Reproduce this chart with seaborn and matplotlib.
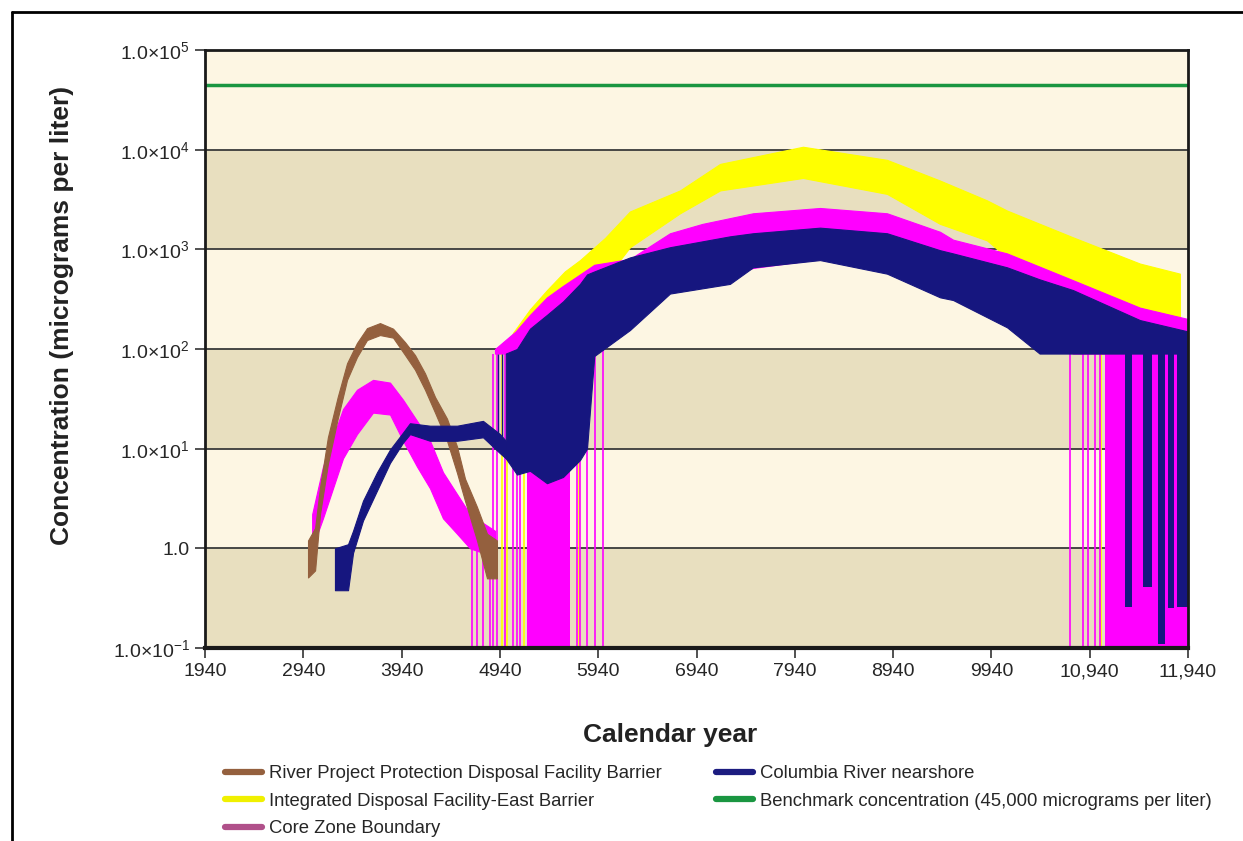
import numpy as np
import pandas as pd
import matplotlib
matplotlib.use('Agg')
import matplotlib.pyplot as plt
from matplotlib.lines import Line2D
import seaborn as sns

# ---- data (envelopes of the noisy model traces) ----
brown_years = [2988, 3060, 3110, 3190, 3290, 3385, 3486, 3588, 3720, 3853, 3975, 4076, 4178, 4280, 4402, 4504, 4585, 4707, 4809, 4910]
brown_upper = [1.2, 1.6, 4.1, 13, 33, 72, 115, 162, 182, 160, 117, 87, 57, 33, 20, 10.5, 5.0, 2.6, 1.4, 1.2]
brown_lower = [0.51, 0.6, 2.2, 7, 20, 49, 83, 123, 138, 130, 87, 62, 39, 23, 12, 5.7, 3.0, 1.2, 0.5, 0.5]

core1_years = [3030, 3140, 3242, 3344, 3486, 3649, 3822, 3954, 4097, 4229, 4361, 4504, 4636, 4768, 4890]
core1_upper = [2.2, 6.6, 13, 25, 39, 49, 46, 31, 19, 12, 5.8, 3.5, 2.2, 1.8, 1.5]
core1_lower = [1.0, 2.0, 4.0, 8.0, 14, 23, 22, 12, 6.6, 4.0, 2.0, 1.4, 1.0, 0.9, 0.9]

core2_years = [4890, 5100, 5246, 5419, 5582, 5755, 5900, 6263, 6670, 7000, 7515, 8196, 8878, 9417, 9550, 10099, 10770, 11451, 11940]
core2_upper = [100, 150, 220, 330, 430, 560, 700, 800, 1450, 1800, 2300, 2600, 2300, 1500, 1250, 910, 490, 260, 200]
core2_lower = [90, 90, 90, 90, 90, 90, 90, 200, 380, 450, 650, 800, 600, 350, 320, 170, 90, 90, 90]

river1_years = [3262, 3395, 3446, 3547, 3690, 3822, 3954, 4025, 4229, 4504, 4768, 4941, 5000]
river1_upper = [1.0, 1.1, 1.5, 3.0, 5.8, 9.8, 14.5, 18, 17, 17, 19, 14, 12]
river1_lower = [0.38, 0.38, 0.9, 1.9, 3.8, 7.2, 11.5, 14, 12, 12, 13, 9.0, 8.0]

river2_years = [5000, 5114, 5246, 5419, 5582, 5755, 5826, 5900, 6263, 6670, 7280, 7515, 8196, 8878, 9417, 9550, 10099, 10430, 10770, 11451, 11940]
river2_upper = [90, 100, 160, 220, 300, 450, 560, 600, 830, 1050, 1350, 1450, 1650, 1450, 980, 910, 660, 500, 390, 195, 150]
river2_lower = [8.0, 5.5, 6.0, 4.5, 5.2, 7.7, 10, 85, 155, 360, 450, 660, 780, 570, 330, 310, 165, 90, 90, 90, 90]

idf_years = [5000, 5073, 5246, 5419, 5600, 5755, 6009, 6263, 6772, 7180, 8023, 8878, 9417, 9895, 10099, 10770, 11451, 11858]
idf_upper = [95, 145, 250, 390, 600, 780, 1300, 2400, 3900, 7200, 10700, 7900, 4900, 3100, 2450, 1320, 720, 570]
idf_lower = [90, 90, 90, 100, 150, 330, 500, 1050, 2300, 3900, 5200, 3600, 1800, 1230, 830, 330, 230, 100]

# drop-outs (values falling below the axis floor)
core_spike_years = [4656, 4707, 4768, 4839, 4870, 4911, 4992, 5073, 5114, 5144, 5724, 5755, 5826, 5907, 5989, 10740, 10872, 10923, 10990, 11045]
core_spike_tops = [1.5, 1.5, 1.3, 1.0, 90, 90, 90, 100, 110, 120, 400, 400, 450, 500, 550, 100, 100, 100, 100, 100]
core_block_start = [5216, 11096]
core_block_end = [5653, 11940]
idf_spike_years = [4962, 5010, 5190, 5600, 5745, 11060, 11110]
idf_spike_tops = [100, 100, 120, 150, 330, 330, 300]
river_spike_years = [4921, 4962]
river_spike_lows = [10, 10]
river_block_start = [11300, 11485, 11635, 11740, 11830]
river_block_end = [11370, 11575, 11705, 11800, 11935]
river_block_low = [0.26, 0.41, 0.11, 0.25, 0.26]

benchmark = 45000
year_ticks = [1940, 2940, 3940, 4940, 5940, 6940, 7940, 8940, 9940, 10940, 11940]
year_labels = ['1940', '2940', '3940', '4940', '5940', '6940', '7940', '8940', '9940', '10,940', '11,940']
conc_ticks = [0.1, 1, 10, 100, 1000, 10000, 100000]
conc_labels = ['1.0×10$^{-1}$', '1.0', '1.0×10$^{1}$', '1.0×10$^{2}$', '1.0×10$^{3}$', '1.0×10$^{4}$', '1.0×10$^{5}$']

labels = ['River Project Protection Disposal Facility Barrier', 'Integrated Disposal Facility-East Barrier',
          'Core Zone Boundary', 'Columbia River nearshore', 'Benchmark concentration (45,000 micrograms per liter)']

# ---- style ----
sns.set_theme(style='white')
plt.rcParams['font.family'] = ['Liberation Sans', 'DejaVu Sans']
plt.rcParams['mathtext.fontset'] = 'custom'
plt.rcParams['mathtext.rm'] = 'Liberation Sans'
plt.rcParams['mathtext.it'] = 'Liberation Sans:italic'
plt.rcParams['mathtext.bf'] = 'Liberation Sans:bold'

BROWN = '#94603e'
YELLOW = '#ffff00'
MAGENTA = '#ff00ff'
NAVY = '#16167f'
GREEN = '#1a9641'
LIGHT = '#fdf6e3'
DARK = '#e8dfbf'

fig = plt.figure(figsize=(12.43, 8.41), dpi=100)
ax = fig.add_axes([205 / 1243, 1 - 648 / 841, 983 / 1243, 598 / 841])
ax.set_yscale('log')
ax.set_xlim(1940, 11940)
ax.set_ylim(0.1, 1e5)

# alternating decade bands and grid lines
for i in range(6):
    ax.axhspan(10.0 ** (i - 1), 10.0 ** i, color=DARK if i % 2 == 0 else LIGHT, zorder=0, lw=0)
for v in conc_ticks[1:-1]:
    ax.axhline(v, color='#3a3a3a', lw=1.3, zorder=1)


def band(years, upper, lower, color, z):
    df = pd.DataFrame({'year': years + years, 'value': upper + lower})
    sns.lineplot(data=df, x='year', y='value', estimator='mean', errorbar=('pi', 100),
                 color=color, linewidth=0, ax=ax,
                 err_kws={'alpha': 1, 'linewidth': 0.8, 'edgecolor': color, 'zorder': z})


# Integrated Disposal Facility-East Barrier
band(idf_years, idf_upper, idf_lower, YELLOW, 2)
ax.vlines(idf_spike_years, 0.1, idf_spike_tops, color=YELLOW, lw=1.2, zorder=2)

# Core Zone Boundary
band(core1_years, core1_upper, core1_lower, MAGENTA, 3)
band(core2_years, core2_upper, core2_lower, MAGENTA, 3)
ax.vlines(core_spike_years, 0.1, core_spike_tops, color=MAGENTA, lw=1.2, zorder=3)
for s, e in zip(core_block_start, core_block_end):
    ax.fill_between([s, e], [0.1, 0.1], [90, 90], color=MAGENTA, lw=0, zorder=3)

# River Project Protection Disposal Facility Barrier
band(brown_years, brown_upper, brown_lower, BROWN, 4)

# Columbia River nearshore
band(river1_years, river1_upper, river1_lower, NAVY, 5)
band(river2_years, river2_upper, river2_lower, NAVY, 5)
ax.vlines(river_spike_years, river_spike_lows, 90, color=NAVY, lw=1.0, zorder=5)
for s, e, lo in zip(river_block_start, river_block_end, river_block_low):
    ax.fill_between([s, e], [lo, lo], [90, 90], color=NAVY, lw=0, zorder=5)

# benchmark
ax.axhline(benchmark, color=GREEN, lw=2.5, zorder=6)

# axes cosmetics
ax.set_xticks(year_ticks)
ax.set_xticklabels(year_labels, fontsize=14)
ax.set_yticks(conc_ticks)
ax.set_yticklabels(conc_labels, fontsize=14)
ax.yaxis.set_minor_locator(matplotlib.ticker.NullLocator())
ax.tick_params(axis='both', which='major', direction='out', length=7, width=1.2, color='#333333', pad=4,
               left=True, bottom=True)
ax.set_xlabel('')
ax.set_ylabel('')
for side in ['left', 'right', 'top']:
    ax.spines[side].set_linewidth(2)
    ax.spines[side].set_color('#1a1a1a')
ax.spines['bottom'].set_linewidth(3)
ax.spines['bottom'].set_color('#1a1a1a')
for sp in ax.spines.values():
    sp.set_zorder(7)

fig.text(62 / 1243, 1 - 315 / 841, 'Concentration (micrograms per liter)', rotation=90,
         ha='center', va='center', fontsize=19, fontweight='bold', color='#222222')
fig.text(670 / 1243, 1 - 735 / 841, 'Calendar year', ha='center', va='center',
         fontsize=19, fontweight='bold', color='#222222')

# legend (two separate columns)
handle_cols = [BROWN, '#f0f000', '#b0508a', '#1c1c80', GREEN]
handles = [Line2D([0], [0], color=c, lw=4.5, solid_capstyle='round') for c in handle_cols]
leg_kw = dict(frameon=False, fontsize=13.3, handlelength=2.0, handletextpad=0.4,
              labelspacing=0.58, borderpad=0, borderaxespad=0, loc='upper left')
leg1 = fig.legend(handles[:3], labels[:3], bbox_to_anchor=(225 / 1243, 1 - 765 / 841), **leg_kw)
leg2 = fig.legend(handles[3:], labels[3:], bbox_to_anchor=(716 / 1243, 1 - 765 / 841), **leg_kw)

# outer frame
fig.add_artist(Line2D([12 / 1243, 12 / 1243], [0, 1 - 12 / 841], color='black', lw=2, transform=fig.transFigure))
fig.add_artist(Line2D([12 / 1243, 1], [1 - 12 / 841, 1 - 12 / 841], color='black', lw=2, transform=fig.transFigure))

fig.savefig('out.png', dpi=100)
